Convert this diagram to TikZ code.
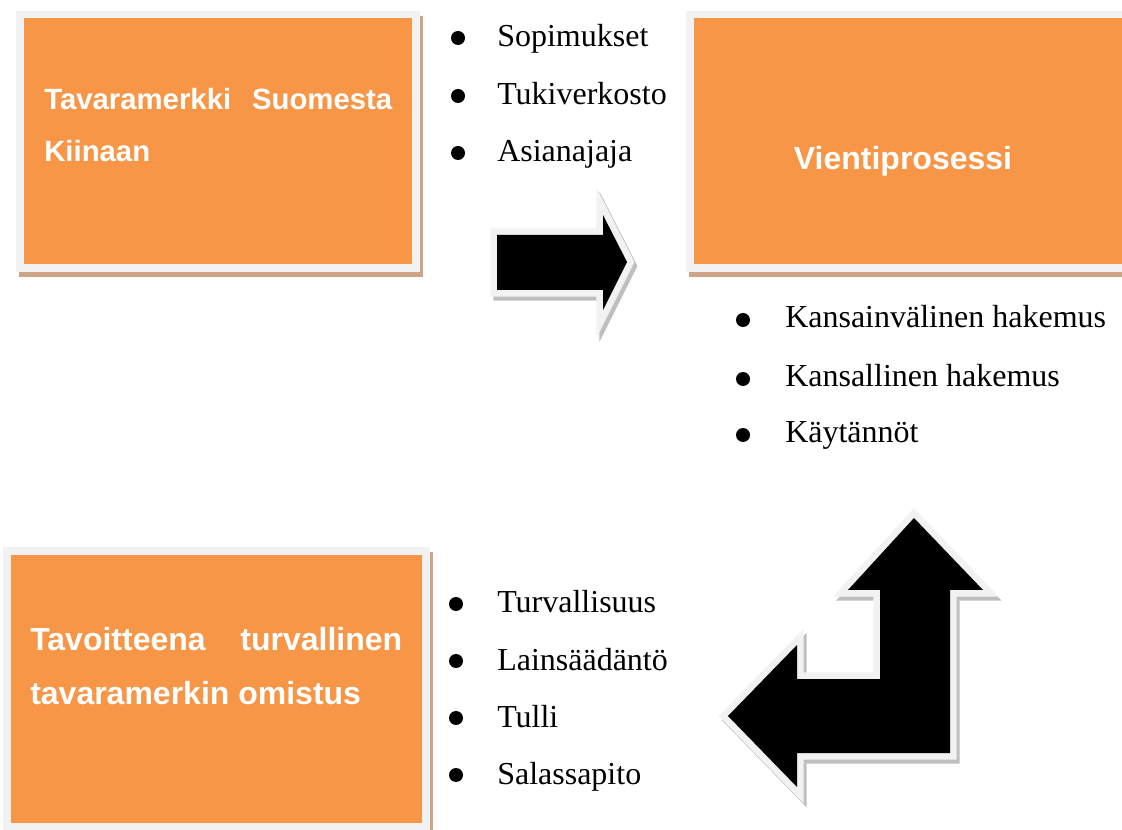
\documentclass[tikz,border=0pt]{standalone}
\usepackage{fontspec}
\setmainfont{Liberation Serif}
\newfontfamily\boxfont{Liberation Sans}
\definecolor{orng}{HTML}{F79646}
\definecolor{frm}{HTML}{F2F2F2}
\definecolor{boxshadow}{HTML}{CFA385}
\definecolor{arrshadow}{HTML}{BFBFBF}
\tikzset{
  boxtext/.style={text=white, inner sep=0pt, anchor=base west, font=\boxfont\bfseries\fontsize{24}{28}\selectfont},
  itemtext/.style={inner sep=0pt, anchor=base west, font=\fontsize{24}{28}\selectfont},
  bulletdot/.style={circle, fill=black, inner sep=0pt, minimum size=10.5pt},
  arrframe/.style={draw=frm, fill=black, line width=10pt, miter limit=10, line join=miter},
  arrshadowstyle/.style={draw=arrshadow, fill=arrshadow, line width=10pt, miter limit=10, line join=miter},
  arrbody/.style={fill=black}
}
\begin{document}
\begin{tikzpicture}[x=0.75pt,y=-0.75pt]
\useasboundingbox (0,0) rectangle (1122,830);

% ---- box 1
\fill[boxshadow] (19,16) rectangle (423,277);
\fill[frm] (16,11) rectangle (420,272);
\fill[orng] (24,18) rectangle (412,264);
\node[boxtext, font=\boxfont\bfseries\fontsize{22}{26}\selectfont] (t1a) at (44,110) {\hbox to 261pt{Tavaramerkki\hfill Suomesta}};
\node[boxtext, font=\boxfont\bfseries\fontsize{22}{26}\selectfont] (t1b) at (44,162) {Kiinaan};

% ---- box 2
\fill[boxshadow] (689,16) rectangle (1130,277);
\fill[frm] (686,11) rectangle (1130,272);
\fill[orng] (694,18) rectangle (1130,264);
\node[boxtext, anchor=base] (t2) at (903,170) {Vientiprosessi};

% ---- box 3
\fill[boxshadow] (6,552) rectangle (433,840);
\fill[frm] (3,547) rectangle (430,840);
\fill[orng] (11,555) rectangle (422,823);
\node[boxtext] (t3a) at (30,650) {\hbox to 279pt{Tavoitteena\hfill turvallinen}};
\node[boxtext] (t3b) at (30,705) {tavaramerkin omistus};

% ---- list 1
\node[bulletdot] (b11) at (458,38) {};
\node[itemtext] (i11) at (497,47) {Sopimukset};
\node[bulletdot] (b12) at (458,96) {};
\node[itemtext] (i12) at (497,105) {Tukiverkosto};
\node[bulletdot] (b13) at (458,153) {};
\node[itemtext] (i13) at (497,162) {Asianajaja};

% ---- list 2
\node[bulletdot] (b21) at (743,320) {};
\node[itemtext] (i21) at (785,328) {Kansainvälinen hakemus};
\node[bulletdot] (b22) at (743,379) {};
\node[itemtext] (i22) at (785,387) {Kansallinen hakemus};
\node[bulletdot] (b23) at (743,435) {};
\node[itemtext] (i23) at (785,443) {Käytännöt};

% ---- list 3
\node[bulletdot] (b31) at (456,604) {};
\node[itemtext] (i31) at (497,613) {Turvallisuus};
\node[bulletdot] (b32) at (456,661) {};
\node[itemtext] (i32) at (497,670) {Lainsäädäntö};
\node[bulletdot] (b33) at (456,718) {};
\node[itemtext] (i33) at (497,727) {Tulli};
\node[bulletdot] (b34) at (456,775) {};
\node[itemtext] (i34) at (497,784) {Salassapito};

% ---- right arrow
\begin{scope}[shift={(3,4)}]
\draw[arrshadowstyle] (497,235) -- (603,235) -- (603,215) -- (627,262) -- (603,310) -- (603,290) -- (497,290) -- cycle;
\end{scope}
\draw[arrframe] (497,235) -- (603,235) -- (603,215) -- (627,262) -- (603,310) -- (603,290) -- (497,290) -- cycle;
\fill[arrbody] (497,235) -- (603,235) -- (603,215) -- (627,262) -- (603,310) -- (603,290) -- (497,290) -- cycle;

% ---- bent arrow
\begin{scope}[shift={(3,4)}]
\draw[arrshadowstyle] (914,518) -- (983,590) -- (950,590) -- (950,753) -- (797,753) -- (797,787) -- (728,716) -- (797,645) -- (797,679) -- (880,679) -- (880,590) -- (848,590) -- cycle;
\end{scope}
\draw[arrframe] (914,518) -- (983,590) -- (950,590) -- (950,753) -- (797,753) -- (797,787) -- (728,716) -- (797,645) -- (797,679) -- (880,679) -- (880,590) -- (848,590) -- cycle;
\fill[arrbody] (914,518) -- (983,590) -- (950,590) -- (950,753) -- (797,753) -- (797,787) -- (728,716) -- (797,645) -- (797,679) -- (880,679) -- (880,590) -- (848,590) -- cycle;
\end{tikzpicture}
\end{document}
